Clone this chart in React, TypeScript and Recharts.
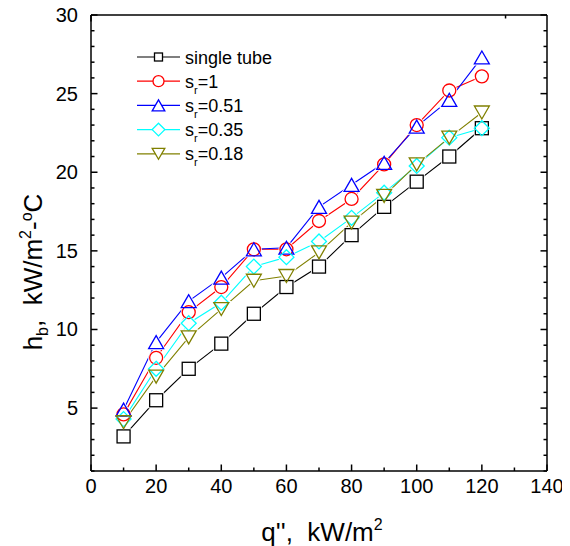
import { LineChart, Line, XAxis, YAxis, Legend } from "recharts";

const heatFlux = [10, 20, 30, 40, 50, 60, 70, 80, 90, 100, 110, 120];
const singleTube = [3.2, 5.5, 7.5, 9.1, 11.0, 12.7, 14.0, 16.0, 17.8, 19.4, 21.0, 22.8];
const sr100 = [4.6, 8.2, 11.1, 12.7, 15.1, 15.1, 16.9, 18.3, 20.5, 23.0, 25.2, 26.1];
const sr051 = [4.9, 9.2, 11.8, 13.3, 15.1, 15.2, 17.8, 19.2, 20.6, 22.9, 24.6, 27.3];
const sr035 = [4.3, 7.5, 10.4, 11.7, 14.0, 14.6, 15.6, 17.1, 18.7, 20.4, 22.2, 22.8];
const sr018 = [4.1, 7.0, 9.5, 11.3, 13.1, 13.4, 14.9, 16.8, 18.5, 20.5, 22.2, 23.8];

const xTicks = [0, 10, 20, 30, 40, 50, 60, 70, 80, 90, 100, 110, 120, 130, 140];
const yTicks = [1, 2, 3, 4, 5, 6, 7, 8, 9, 10, 11, 12, 13, 14, 15, 16, 17, 18, 19, 20, 21, 22, 23, 24, 25, 26, 27, 28, 29, 30];

const FONT = "Arial, 'Liberation Sans', sans-serif";

type Shape = "square" | "circle" | "triangle" | "diamond" | "down";

const series: { key: string; values: number[]; color: string; shape: Shape; label: string; sub?: string; rest?: string }[] = [
  { key: "single", values: singleTube, color: "#000000", shape: "square", label: "single tube" },
  { key: "s100", values: sr100, color: "#ff0000", shape: "circle", label: "s", sub: "r", rest: "=1" },
  { key: "s051", values: sr051, color: "#0000ff", shape: "triangle", label: "s", sub: "r", rest: "=0.51" },
  { key: "s035", values: sr035, color: "#00ffff", shape: "diamond", label: "s", sub: "r", rest: "=0.35" },
  { key: "s018", values: sr018, color: "#808000", shape: "down", label: "s", sub: "r", rest: "=0.18" },
];

const data = heatFlux.map((q, i) => {
  const row: any = { q };
  series.forEach((s) => (row[s.key] = s.values[i]));
  return row;
});

const Marker = ({ shape, cx, cy, size, stroke, fill, sw }: any) => {
  const h = size / 2;
  if (shape === "square") {
    return <rect x={cx - h} y={cy - h} width={size} height={size} stroke={stroke} fill={fill} strokeWidth={sw} />;
  }
  if (shape === "circle") {
    return <circle cx={cx} cy={cy} r={h} stroke={stroke} fill={fill} strokeWidth={sw} />;
  }
  if (shape === "triangle") {
    const w = h * 1.15;
    return <polygon points={`${cx},${cy - h} ${cx - w},${cy + h} ${cx + w},${cy + h}`} stroke={stroke} fill={fill} strokeWidth={sw} />;
  }
  if (shape === "down") {
    const w = h * 1.15;
    return <polygon points={`${cx - w},${cy - h} ${cx + w},${cy - h} ${cx},${cy + h}`} stroke={stroke} fill={fill} strokeWidth={sw} />;
  }
  const d = h * 1.15;
  return <polygon points={`${cx},${cy - d} ${cx + d},${cy} ${cx},${cy + d} ${cx - d},${cy}`} stroke={stroke} fill={fill} strokeWidth={sw} />;
};

// white mask under each symbol leaves the small gap between line and symbol, then the outline goes on top
const dotRenderer = (s: any, mode: "mask" | "outline") => (props: any) => {
  const { cx, cy, index } = props;
  if (cx == null || cy == null) return <g key={`${s.key}-${mode}-${index}`} />;
  return (
    <g key={`${s.key}-${mode}-${index}`}>
      {mode === "mask" ? (
        <Marker shape={s.shape} cx={cx} cy={cy} size={13} stroke="#ffffff" fill="#ffffff" sw={3} />
      ) : (
        <Marker shape={s.shape} cx={cx} cy={cy} size={13} stroke={s.color} fill="none" sw={1.3} />
      )}
    </g>
  );
};

const TICK_COLOR = "#000000";

// inward ticks, labels only on the major ones
const BottomTick = (props: any) => {
  const { x, y, payload } = props;
  const major = payload.value % 20 === 0;
  return (
    <g>
      <path d={`M${x},${y}V${Number(y) - (major ? 6.5 : 3.5)}`} stroke={TICK_COLOR} strokeWidth={1.5} />
      {major && (
        <text x={x} y={Number(y) + 22} textAnchor="middle" fontSize={20} fontFamily={FONT} fill="#000">
          {payload.value}
        </text>
      )}
    </g>
  );
};

const TopTick = (props: any) => {
  const { x, y, payload } = props;
  const major = payload.value % 20 === 0;
  return <path d={`M${x},${y}V${Number(y) + (major ? 6.5 : 3.5)}`} stroke={TICK_COLOR} strokeWidth={1.5} />;
};

const LeftTick = (props: any) => {
  const { x, y, payload } = props;
  const major = payload.value % 5 === 0;
  return (
    <g>
      <path d={`M${x},${y}H${Number(x) + (major ? 6.5 : 3.5)}`} stroke={TICK_COLOR} strokeWidth={1.5} />
      {major && (
        <text x={Number(x) - 13} y={y} dy="0.35em" textAnchor="end" fontSize={20} fontFamily={FONT} fill="#000">
          {payload.value}
        </text>
      )}
    </g>
  );
};

const RightTick = (props: any) => {
  const { x, y, payload } = props;
  const major = payload.value % 5 === 0;
  return <path d={`M${x},${y}H${Number(x) - (major ? 6.5 : 3.5)}`} stroke={TICK_COLOR} strokeWidth={1.5} />;
};

const XTitle = (props: any) => {
  const vb = props.viewBox;
  return (
    <text x={vb.x + vb.width / 2 + 3} y={vb.y + 70} textAnchor="middle" fontSize={26} fontFamily={FONT} fill="#000" style={{ whiteSpace: "pre" }}>
      {"q'',  kW/m"}
      <tspan fontSize={16} dy={-11}>2</tspan>
    </text>
  );
};

const YTitle = (props: any) => {
  const vb = props.viewBox;
  const x = 34;
  const y = vb.y + 257;
  return (
    <text x={x} y={y} transform={`rotate(-90, ${x}, ${y})`} textAnchor="middle" fontSize={26} fontFamily={FONT} fill="#000" style={{ whiteSpace: "pre" }}>
      h
      <tspan fontSize={16} dy={6}>b</tspan>
      <tspan dy={-6}>{",  kW/m"}</tspan>
      <tspan fontSize={16} dy={-11}>2</tspan>
      <tspan dy={11}>-</tspan>
      <tspan fontSize={16} dy={-10}>o</tspan>
      <tspan dy={10}>C</tspan>
    </text>
  );
};

const LegendBox = () => (
  <svg width={170} height={125}>
    {series.map((s, i) => {
      const cy = 10 + i * 24.2;
      return (
        <g key={s.key}>
          <line x1={0} y1={cy} x2={43} y2={cy} stroke={s.color} strokeWidth={1.2} />
          <Marker shape={s.shape} cx={21.5} cy={cy} size={s.shape === "square" ? 8 : 11} stroke={s.color} fill="#ffffff" sw={1.3} />
          <text x={48} y={cy + 6.5} fontSize={18} fontFamily={FONT} fill="#000">
            {s.label}
            {s.sub && (
              <tspan fontSize={11} dx={0} dy={6}>
                {s.sub}
              </tspan>
            )}
            {s.rest && <tspan dy={-6}>{s.rest}</tspan>}
          </text>
        </g>
      );
    })}
  </svg>
);

export default function App() {
  return (
    <div style={{ marginTop: -8 }}>
      <LineChart width={562} height={546} data={data} margin={{ top: 14, right: 13, bottom: 0, left: 0 }} style={{ overflow: "visible" }}>
        <XAxis
          dataKey="q"
          type="number"
          domain={[0, 140]}
          ticks={xTicks}
          interval={0}
          tickSize={0}
          tickMargin={0}
          height={75}
          axisLine={{ stroke: "#000", strokeWidth: 1.5 }}
          tick={<BottomTick />}
          label={XTitle}
        />
        <XAxis
          xAxisId="top"
          orientation="top"
          type="number"
          domain={[0, 140]}
          ticks={xTicks}
          interval={0}
          tickSize={0}
          tickMargin={0}
          height={1}
          allowDataOverflow
          axisLine={{ stroke: "#000", strokeWidth: 1.5 }}
          tick={<TopTick />}
        />
        <YAxis
          type="number"
          domain={[1, 30]}
          ticks={yTicks}
          interval={0}
          tickSize={0}
          tickMargin={0}
          width={83}
          allowDataOverflow
          axisLine={{ stroke: "#000", strokeWidth: 1.5 }}
          tick={<LeftTick />}
          label={YTitle}
        />
        <YAxis
          yAxisId="right"
          orientation="right"
          type="number"
          domain={[1, 30]}
          ticks={yTicks}
          interval={0}
          tickSize={0}
          tickMargin={0}
          width={10}
          allowDataOverflow
          axisLine={{ stroke: "#000", strokeWidth: 1.5 }}
          tick={<RightTick />}
        />
        <Legend
          layout="vertical"
          align="center"
          verticalAlign="middle"
          content={<LegendBox />}
          wrapperStyle={{ position: "absolute", left: 129, top: 47, width: 170, height: 125 }}
        />
        {series.map((s) => (
          <Line key={`l-${s.key}`} dataKey={s.key} stroke={s.color} strokeWidth={1.1} dot={false} activeDot={false} isAnimationActive={false} />
        ))}
        {series.map((s) => (
          <Line key={`m-${s.key}`} dataKey={s.key} stroke="none" dot={dotRenderer(s, "mask")} activeDot={false} isAnimationActive={false} legendType="none" />
        ))}
        {series.map((s) => (
          <Line key={`o-${s.key}`} dataKey={s.key} stroke="none" dot={dotRenderer(s, "outline")} activeDot={false} isAnimationActive={false} legendType="none" />
        ))}
      </LineChart>
    </div>
  );
}
